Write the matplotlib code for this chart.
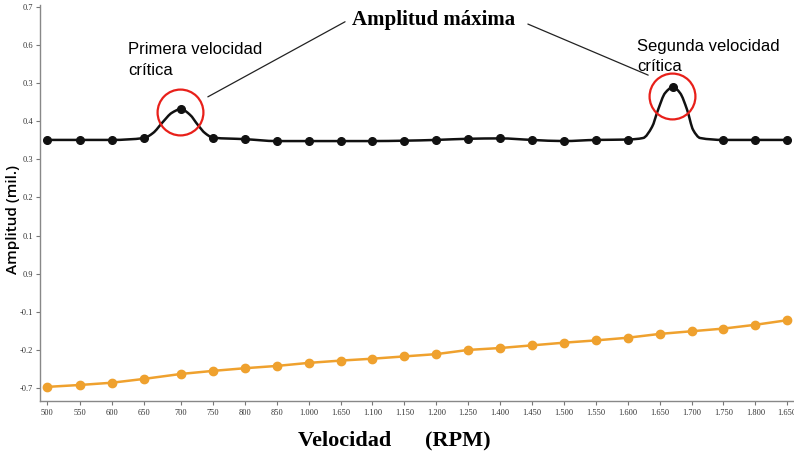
import matplotlib
matplotlib.use('Agg')
import matplotlib.pyplot as plt
import numpy as np
from matplotlib.path import Path
from matplotlib.patches import PathPatch

RPM_LABELS = ['500', '550', '600', '650', '700', '750', '800', '850', '1.000', '1.650',
              '1.100', '1.150', '1.200', '1.250', '1.400', '1.450', '1.500', '1.550',
              '1.600', '1.650', '1.700', '1.750', '1.800', '1.650']
# category positions along the axis (the first four sit a little closer together)
RPM_POS = [-0.2, 0.82, 1.84, 2.84] + list(range(4, 24))
Y_TICKS = [-0.3, -0.2, -0.1, 0.0, 0.1, 0.2, 0.3, 0.4, 0.5, 0.6, 0.7]
Y_LABELS = ['-0.7', '-0.2', '-0.1', '0.9', '0.1', '0.2', '0.3', '0.4', '0.3', '0.6', '0.7']

# black series: measured points (markers); 700 and ~1.670 RPM are the peaks
BLACK_X = [-0.2, 0.82, 1.84, 2.84, 4.0, 5, 6, 7, 8, 9, 10, 11, 12, 13, 14, 15, 16, 17, 18,
           19.42, 21, 22, 23]
BLACK_Y = [0.351, 0.351, 0.351, 0.356, 0.432, 0.357, 0.353, 0.348, 0.348, 0.348, 0.348,
           0.349, 0.351, 0.354, 0.355, 0.351, 0.348, 0.351, 0.352, 0.490, 0.351, 0.351, 0.351]
# shape of the two resonance bumps
BUMP1_X = [3.12, 3.43, 3.71, 4.28, 4.53, 4.75]
BUMP1_Y = [0.369, 0.398, 0.422, 0.417, 0.390, 0.369]
BUMP2_X = [18.48, 18.76, 18.95, 19.17, 19.64, 19.86, 20.05, 20.27]
BUMP2_Y = [0.356, 0.385, 0.430, 0.474, 0.474, 0.430, 0.377, 0.356]
PEAK_X = [3.98, 19.40]
PEAK_Y = [0.424, 0.466]

ORANGE_Y = [-0.297, -0.292, -0.286, -0.276, -0.263, -0.255, -0.248, -0.242, -0.234,
            -0.228, -0.223, -0.217, -0.211, -0.200, -0.195, -0.188, -0.181, -0.175,
            -0.168, -0.158, -0.151, -0.144, -0.134, -0.122]

SERIF = 'Liberation Serif'
SANS = 'Liberation Sans'


def smooth_path(xs, ys):
    # monotone cubic through the points, as a bezier path
    xs, ys = np.asarray(xs, float), np.asarray(ys, float)
    h = np.diff(xs)
    d = np.diff(ys) / h
    m = np.zeros_like(xs)
    m[0], m[-1] = d[0], d[-1]
    for i in range(1, len(xs) - 1):
        if d[i - 1] * d[i] > 0:
            w1, w2 = 2 * h[i] + h[i - 1], h[i] + 2 * h[i - 1]
            m[i] = (w1 + w2) / (w1 / d[i - 1] + w2 / d[i])
    verts, codes = [(xs[0], ys[0])], [Path.MOVETO]
    for i in range(len(xs) - 1):
        verts += [(xs[i] + h[i] / 3, ys[i] + m[i] * h[i] / 3),
                  (xs[i + 1] - h[i] / 3, ys[i + 1] - m[i + 1] * h[i] / 3),
                  (xs[i + 1], ys[i + 1])]
        codes += [Path.CURVE4] * 3
    return Path(verts, codes)


fig = plt.figure(figsize=(7.94, 4.55), dpi=100)
ax = fig.add_axes([40 / 794, 54 / 455, 754 / 794, 396 / 455])

cx = BLACK_X + BUMP1_X + BUMP2_X
cy = BLACK_Y + BUMP1_Y + BUMP2_Y
order = np.argsort(cx)
ax.add_patch(PathPatch(smooth_path(np.array(cx)[order], np.array(cy)[order]),
                       fill=False, ec='#111111', lw=1.8, zorder=3))
ax.plot(BLACK_X, BLACK_Y, 'o', color='#111111', ms=5.5, zorder=4)

ax.plot(RPM_POS, ORANGE_Y, '-o', color='#EFA12E', lw=1.8, ms=6, zorder=3)

ax.plot(PEAK_X, PEAK_Y, 'o', ms=33, mfc='none', mec='#E8201A', mew=1.6, zorder=5)

ax.set_xlim(-0.42, 23.21)
ax.set_ylim(-0.334, 0.705)
ax.set_xticks(RPM_POS)
ax.set_xticklabels(RPM_LABELS, family=SERIF)
ax.set_yticks(Y_TICKS)
ax.set_yticklabels(Y_LABELS, family=SERIF)
ax.tick_params(axis='both', length=3, width=0.8, color='#777777', labelsize=6,
               labelcolor='#333333')
ax.tick_params(axis='y', pad=2)
ax.tick_params(axis='x', pad=3)
for s in ('top', 'right'):
    ax.spines[s].set_visible(False)
for s in ('left', 'bottom'):
    ax.spines[s].set_color('#888888')
    ax.spines[s].set_linewidth(1.0)

# leader lines from the title to the circles
ax.annotate('', xy=(4.84, 0.464), xytext=(9.14, 0.661), annotation_clip=False,
            arrowprops=dict(arrowstyle='-', color='#222222', lw=0.9, shrinkA=0, shrinkB=0))
ax.annotate('', xy=(18.64, 0.521), xytext=(14.87, 0.655), annotation_clip=False,
            arrowprops=dict(arrowstyle='-', color='#222222', lw=0.9, shrinkA=0, shrinkB=0))

fig.text(434 / 794, 1 - 20 / 455, 'Amplitud máxima', family=SERIF, weight='bold',
         fontsize=15, ha='center', va='center')
fig.text(128 / 794, 1 - 42 / 455, 'Primera velocidad\ncrítica', family=SANS,
         fontsize=12, ha='left', va='top', linespacing=1.5)
fig.text(637 / 794, 1 - 39 / 455, 'Segunda velocidad\ncrítica', family=SANS,
         fontsize=12, ha='left', va='top', linespacing=1.45)
fig.text(13 / 794, 1 - 219 / 455, 'Amplitud (mil.)', family='Open Sans', fontsize=11,
         weight='semibold', rotation=90, ha='center', va='center')
fig.text(394 / 794, 1 - 440 / 455, 'Velocidad      (RPM)', family=SERIF, weight='bold',
         fontsize=16, ha='center', va='center')

fig.savefig('out.png', facecolor='white')
